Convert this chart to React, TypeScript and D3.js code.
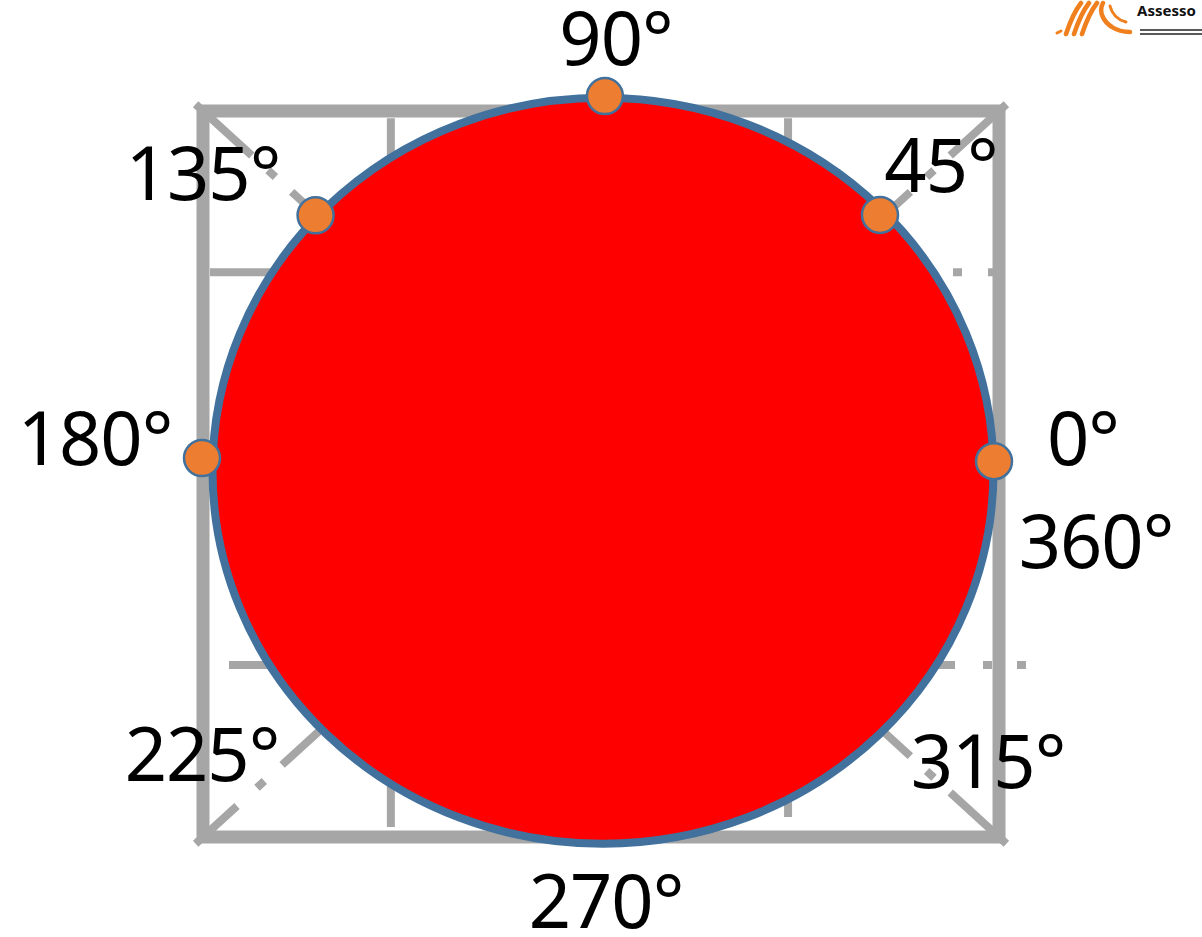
import React from 'react';
import * as d3 from 'd3';

// nominal angle of every orange marker
const markerDegrees = [0, 45, 90, 135, 180];
// where each marker sits on its ring (degrees and share of the radius)
const markerAngles = [-0.2, 43.4, 89, 136.7, 179.7];
const markerReach = [1, 0.98, 1, 0.98, 1];

const angleLabels = ['90°', '135°', '45°', '180°', '0°', '360°', '225°', '315°', '270°'];

const W = 1202;
const H = 937;
const GRAY = '#a6a6a6';
const BLUE = '#41719c';

export default function App() {
  // frame of the box behind the disc
  const frame = { x0: 203, y0: 111, x1: 999, y1: 837 };
  const fx = d3.scaleLinear().domain([-1, 1]).range([frame.x0, frame.x1]);
  const fy = d3.scaleLinear().domain([-1, 1]).range([frame.y1, frame.y0]);

  // red disc (drawn as an ellipse)
  const disc = { cx: 603, cy: 470.75, rx: 390.5, ry: 373 };

  // ring the markers are placed on
  const rx = d3.scaleLinear().domain([-1, 1]).range([202, 994]);
  const ry = d3.scaleLinear().domain([-1, 1]).range([824, 96]);
  const markers = markerDegrees.map((d, i) => {
    const a = (markerAngles[i] * Math.PI) / 180;
    return {
      deg: d,
      x: rx(markerReach[i] * Math.cos(a)),
      y: ry(markerReach[i] * Math.sin(a)),
    };
  });

  const labelPos: Record<string, [number, number]> = {
    '90°': [616, 65],
    '135°': [203, 200],
    '45°': [941, 192],
    '180°': [95, 465],
    '0°': [1083, 465],
    '360°': [1096, 568],
    '225°': [202, 781],
    '315°': [988, 788],
    '270°': [606, 928],
  };

  const cx = fx(0);
  const cy = fy(0);
  // dash pattern of each corner diagonal (the bottom-left one is shifted)
  const diagDash = '76 22 10 22 66 22 10 22 66 22 10 22 66 22 10 22';
  const diagDashBL = '56 27 10 24 66 22 10 22 66 22 10 22 66 22 10 22';
  const corners: [number, number, string][] = [
    [fx(-1), fy(1), diagDash],
    [fx(1), fy(1), diagDash],
    [fx(-1), fy(-1), diagDashBL],
    [fx(1), fy(-1), diagDash],
  ];

  return (
    <svg width={W} height={H} style={{ position: 'absolute', left: 0, top: 0, background: '#fff' }}>
      {/* logo */}
      <g fill="none" stroke="#f0801e" strokeLinecap="round">
        <path d="M1057,33 L1061,31" strokeWidth={3} />
        <path d="M1066,34 C1070,22 1074,12 1081,3" strokeWidth={4.5} />
        <path d="M1074,34 C1078,22 1082,12 1089,3" strokeWidth={4.5} />
        <path d="M1082,34 C1086,22 1090,12 1097,3" strokeWidth={4.5} />
        <path d="M1103,3 C1098,12 1104,22 1112,27 C1118,31 1124,32 1130,32" strokeWidth={4.5} />
        <path d="M1110,6 C1112,14 1118,20 1126,22" strokeWidth={3} />
      </g>
      <text x={1137} y={16} fontFamily="Noto Sans, sans-serif" fontWeight="bold" fontSize={15} fill="#111">
        Assesso
      </text>
      <line x1={1140} x2={W} y1={30} y2={30} stroke="#222" strokeWidth={1.5} />
      <line x1={1140} x2={W} y1={34} y2={34} stroke="#222" strokeWidth={1.5} />

      {/* box grid */}
      <g stroke={GRAY} fill="none">
        {corners.map(([x, y, dash], i) => {
          const dx = cx - x;
          const dy = cy - y;
          const len = Math.hypot(dx, dy);
          const ext = 10;
          return (
            <line
              key={i}
              x1={x - (dx / len) * ext}
              y1={y - (dy / len) * ext}
              x2={cx}
              y2={cy}
              strokeWidth={8}
              strokeDasharray={dash}
            />
          );
        })}
        <line x1={fx(-0.528)} x2={fx(-0.528)} y1={fy(0.98)} y2={827} strokeWidth={8} />
        <line x1={fx(0.47)} x2={fx(0.47)} y1={fy(0.98)} y2={817} strokeWidth={8} />
        <line x1={210} x2={997} y1={fy(0.556)} y2={fy(0.556)} strokeWidth={8} strokeDasharray="717 26 9 26 9" />
        <line x1={229} x2={1028} y1={fy(-0.526)} y2={fy(-0.526)} strokeWidth={8} strokeDasharray="726 28 9 25 9" />
        <rect
          x={frame.x0}
          y={frame.y0}
          width={frame.x1 - frame.x0}
          height={frame.y1 - frame.y0}
          strokeWidth={13}
        />
      </g>

      {/* disc */}
      <ellipse cx={disc.cx} cy={disc.cy} rx={disc.rx} ry={disc.ry} fill="#ff0000" stroke={BLUE} strokeWidth={8} />

      {/* markers */}
      {markers.map((m) => (
        <circle key={m.deg} cx={m.x} cy={m.y} r={18} fill="#ed7d31" stroke={BLUE} strokeWidth={2.5} />
      ))}

      {/* labels */}
      {angleLabels.map((t) => (
        <text
          key={t}
          x={labelPos[t][0]}
          y={labelPos[t][1]}
          textAnchor="middle"
          fontFamily="Noto Sans, sans-serif"
          fontSize={74}
          letterSpacing={-1}
          fill="#000"
        >
          {t}
        </text>
      ))}
    </svg>
  );
}
